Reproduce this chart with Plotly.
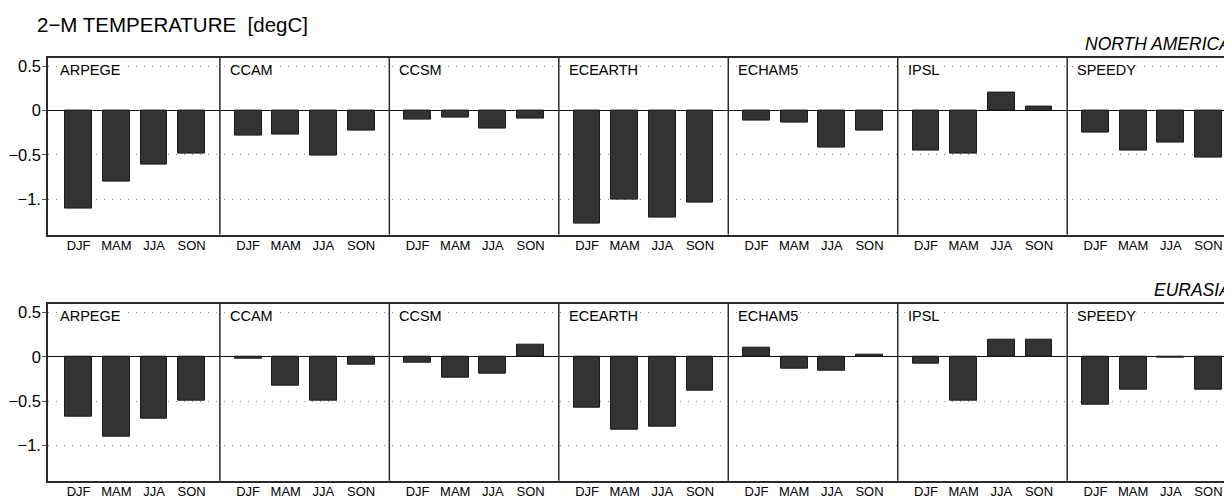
import plotly.graph_objects as go

# ---------------- data ----------------
seasons = ["DJF", "MAM", "JJA", "SON"]
models = ["ARPEGE", "CCAM", "CCSM", "ECEARTH", "ECHAM5", "IPSL", "SPEEDY"]

north_america = {
    "ARPEGE":  [-1.11, -0.80, -0.605, -0.49],
    "CCAM":    [-0.28, -0.27, -0.51, -0.23],
    "CCSM":    [-0.105, -0.075, -0.20, -0.094],
    "ECEARTH": [-1.28, -1.01, -1.207, -1.04],
    "ECHAM5":  [-0.117, -0.139, -0.42, -0.222],
    "IPSL":    [-0.447, -0.485, 0.207, 0.049],
    "SPEEDY":  [-0.252, -0.455, -0.357, -0.534],
}
eurasia = {
    "ARPEGE":  [-0.673, -0.906, -0.695, -0.50],
    "CCAM":    [-0.019, -0.327, -0.50, -0.094],
    "CCSM":    [-0.071, -0.237, -0.192, 0.139],
    "ECEARTH": [-0.571, -0.827, -0.789, -0.38],
    "ECHAM5":  [0.10, -0.132, -0.162, 0.023],
    "IPSL":    [-0.079, -0.50, 0.195, 0.195],
    "SPEEDY":  [-0.538, -0.372, -0.008, -0.376],
}
regions = ["NORTH AMERICA", "EURASIA"]
region_data = [north_america, eurasia]

y_tickvals = [-1.0, -0.5, 0.0, 0.5]
y_ticktext = ["\u22121.", "\u22120.5", "0", "0.5"]
title_text = "2\u2212M TEMPERATURE&nbsp;&nbsp;[degC]"

# ---------------- layout constants ----------------
# page body has an 8px margin, so figure coords = screen coords - 8
OFF = 8
W, H = 1232 - OFF, 499 - OFF
ML, MR = 46 - OFF, 1
PANEL_W = 4.5          # panel width in axis units
OFFSET = 0.75          # first bar centre from panel left
BAR_W = 0.714
px_per_unit = 169.9 / PANEL_W
plot_w = W - ML - MR
x_start = -(48.4 - 46.0) / px_per_unit
x_end = x_start + plot_w / px_per_unit

# vertical screen positions (top, bottom) of each region's plot box
boxes = [(57.7 - OFF, 235.0 - OFF), (304.3 - OFF, 481.7 - OFF)]
label_y = [43.7 - OFF, 291.0 - OFF]

FONT = "Liberation Sans, Arial, Helvetica, sans-serif"
BAR_COLOR = "#333333"
FRAME = "#2a2a2a"

fig = go.Figure()

tickvals_x = []
ticktext_x = []
for p, m in enumerate(models):
    for s, sname in enumerate(seasons):
        tickvals_x.append(p * PANEL_W + OFFSET + s)
        ticktext_x.append(sname)

for r, (rname, data) in enumerate(zip(regions, region_data)):
    xs, ys = [], []
    for p, m in enumerate(models):
        for s in range(len(seasons)):
            xs.append(p * PANEL_W + OFFSET + s)
            ys.append(data[m][s])
    suffix = "" if r == 0 else str(r + 1)
    fig.add_trace(go.Bar(
        x=xs, y=ys, width=BAR_W,
        marker=dict(color=BAR_COLOR, line=dict(color="#1a1a1a", width=1)),
        xaxis="x" + suffix, yaxis="y" + suffix, showlegend=False,
    ))

    top, bot = boxes[r]
    dom = [1 - bot / H, 1 - top / H]
    common_x = dict(
        range=[x_start, x_end], tickmode="array", tickvals=tickvals_x, ticktext=ticktext_x,
        showgrid=False, zeroline=False, showline=True, mirror=True,
        linecolor=FRAME, linewidth=1.5, ticks="", ticklabelstandoff=-2,
        tickfont=dict(family=FONT, size=13, color="black"),
        anchor="y" + suffix, fixedrange=True,
    )
    common_y = dict(
        domain=dom, range=[-1.4, 0.6], tickmode="array", tickvals=y_tickvals,
        ticktext=y_ticktext, showgrid=True, gridcolor="#8a8a8a", gridwidth=1,
        griddash="1px,7px", zeroline=True, zerolinecolor="#111111", zerolinewidth=1.2,
        showline=True, mirror=True, linecolor=FRAME, linewidth=1.5,
        ticks="outside", ticklen=4, tickcolor="#555555", ticklabelstandoff=-2,
        tickfont=dict(family=FONT, size=16.5, color="black"),
        anchor="x" + suffix, fixedrange=True,
    )
    fig.update_layout(**{"xaxis" + suffix: common_x, "yaxis" + suffix: common_y})

    # panel separators
    for p in range(1, len(models)):
        fig.add_shape(type="line", xref="x" + suffix, yref="y" + suffix + " domain",
                      x0=p * PANEL_W, x1=p * PANEL_W, y0=0, y1=1,
                      line=dict(color=FRAME, width=1.5))
    # model labels
    for p, m in enumerate(models):
        fig.add_annotation(x=p * PANEL_W, y=0.465, xref="x" + suffix, yref="y" + suffix,
                           text=m, showarrow=False, xanchor="left", yanchor="middle",
                           xshift=9, bgcolor="white", borderpad=0,
                           font=dict(family=FONT, size=14.5, color="black"))
    # region label
    fig.add_annotation(x=1, y=1 - label_y[r] / H, xref="paper", yref="paper",
                       text="<i>" + rname + "</i>", showarrow=False,
                       xanchor="right", yanchor="middle", xshift=3,
                       font=dict(family=FONT, size=17.5, color="black"))

title_left = 33.3 - OFF
fig.add_annotation(x=(title_left - ML) / plot_w, y=1 - (25 - OFF) / H,
                   xref="paper", yref="paper",
                   text=title_text, showarrow=False, xanchor="left", yanchor="middle",
                   font=dict(family=FONT, size=20.5, color="black"))

fig.update_layout(
    width=W, height=H,
    margin=dict(l=ML, r=MR, t=0, b=0, pad=0),
    paper_bgcolor="white", plot_bgcolor="white",
    bargap=0, showlegend=False,
)

fig.write_html("out.html", config={"displayModeBar": False})
